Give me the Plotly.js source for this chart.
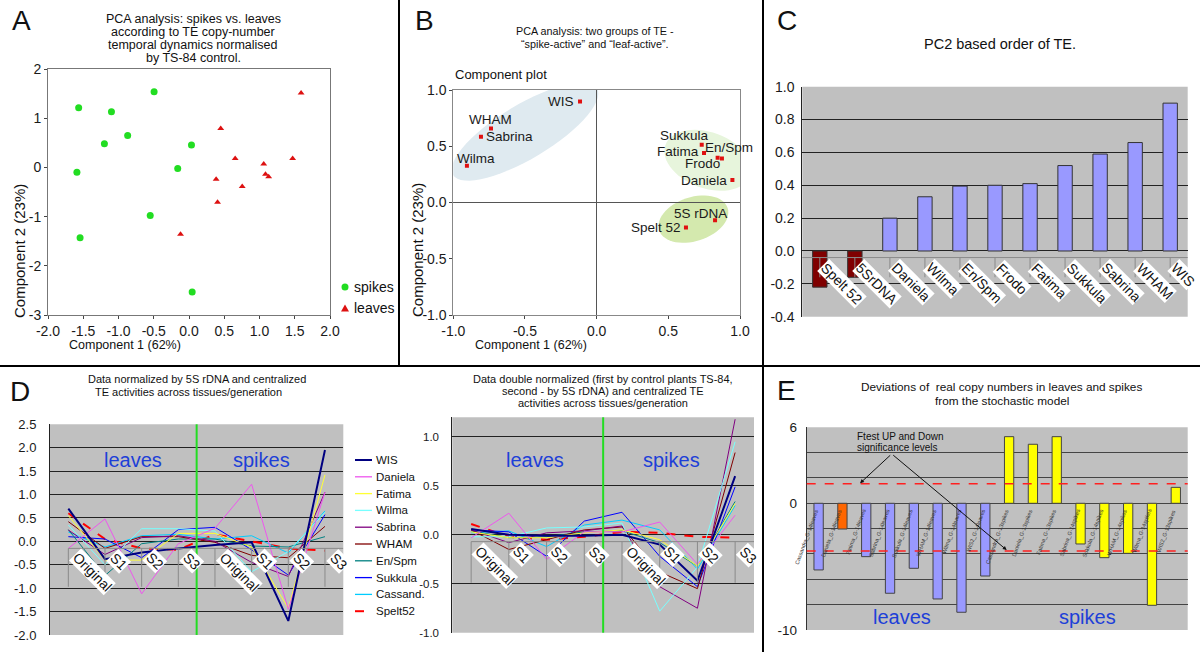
<!DOCTYPE html>
<html>
<head>
<meta charset="utf-8">
<script src="https://cdn.plot.ly/plotly-3.0.1.min.js"></script>
<style>
html,body{margin:0;padding:0;background:#ffffff;}
#chart{width:1200px;height:652px;}
</style>
</head>
<body>
<div id="chart"></div>
<script>
// ===================== DATA =====================
// Panel A – PCA scores
const aSpikesX = [-1.565, -1.10, -0.495, -1.20, -0.87, 0.035, -1.59, -0.16, -0.55, -1.545, 0.045];
const aSpikesY = [1.21, 1.13, 1.54, 0.48, 0.65, 0.455, -0.10, -0.02, -0.98, -1.43, -2.53];
const aLeavesX = [1.59, 0.45, 0.655, 1.06, 1.47, 1.085, 1.13, 0.385, 0.755, 0.405, -0.12];
const aLeavesY = [1.51, 0.79, 0.18, 0.07, 0.18, -0.14, -0.19, -0.24, -0.39, -0.71, -1.36];
const aTicksX = [-2, -1.5, -1, -0.5, 0, 0.5, 1, 1.5, 2];
const aTicksY = [-3, -2, -1, 0, 1, 2];
const aLegend = ['spikes', 'leaves'];

// Panel B – component plot
const bNames = ['WIS', 'WHAM', 'Sabrina', 'Wilma', 'Sukkula', 'Fatima', 'En/Spm', 'Frodo', 'Daniela', '5S rDNA', 'Spelt 52'];
const bX = [-0.116, -0.737, -0.807, -0.905, 0.733, 0.749, 0.874, 0.844, 0.947, 0.826, 0.623];
const bY = [0.898, 0.658, 0.584, 0.326, 0.513, 0.439, 0.391, 0.397, 0.199, -0.157, -0.222];
const bTicks = [-1, -0.5, 0, 0.5, 1];

// Panel C – PC2 order
const cCategories = ['Spelt 52', '5SrDNA', 'Daniela', 'Wilma', 'En/Spm', 'Frodo', 'Fatima', 'Sukkula', 'Sabrina', 'WHAM', 'WIS'];
const cValues = [-0.22, -0.16, 0.20, 0.33, 0.395, 0.40, 0.41, 0.52, 0.59, 0.66, 0.90];
const cTicks = [-0.4, -0.2, 0, 0.2, 0.4, 0.6, 0.8, 1.0];

// Panel D – TE activities
const dCategories = ['Original', 'S1', 'S2', 'S3', 'Original', 'S1', 'S2', 'S3'];
const dSeries = ['WIS', 'Daniela', 'Fatima', 'Wilma', 'Sabrina', 'WHAM', 'En/Spm', 'Sukkula', 'Cassand.', 'Spelt52'];
// left chart: normalized by 5S rDNA
const dLeftWIS      = [0.70, -0.38, -0.24, -0.15, -0.08, -0.02, -1.70, 1.95];
const dLeftDaniela  = [-0.15, 0.48, -1.12, -0.05, 0.28, 1.22, -1.45, 1.05];
const dLeftFatima   = [0.55, -0.40, -0.40, 0.17, 0.17, -0.12, -1.43, 1.42];
const dLeftWilma    = [0.35, -0.50, 0.27, 0.27, 0.22, -0.65, -0.22, 0.62];
const dLeftSabrina  = [0.24, -0.28, 0.08, 0.12, 0.00, -0.45, -0.75, 1.05];
const dLeftWHAM     = [0.42, -0.15, 0.10, 0.10, -0.02, -0.30, -0.35, 0.32];
const dLeftEnSpm    = [0.25, -0.73, -0.05, 0.05, 0.05, -0.10, -0.12, 0.10];
const dLeftSukkula  = [0.10, 0.05, -0.35, 0.25, 0.30, -0.18, -0.72, 0.57];
const dLeftCassand  = [0.20, -0.12, 0.12, 0.15, 0.05, 0.12, -0.25, 0.65];
const dLeftSpelt52  = [0.60, 0.05, -0.15, -0.18, 0.15, 0.00, -0.15, -0.20];
const dLeftTicks = [-2, -1.5, -1, -0.5, 0, 0.5, 1, 1.5, 2, 2.5];
// right chart: double normalized
const dRightWIS     = [0.06, 0.00, -0.01, -0.01, 0.00, -0.10, -0.47, 0.60];
const dRightDaniela = [-0.03, 0.22, -0.25, 0.03, 0.03, 0.13, -0.30, 0.20];
const dRightFatima  = [0.03, -0.03, -0.03, 0.02, 0.05, -0.05, -0.32, 0.32];
const dRightWilma   = [-0.02, -0.02, 0.07, 0.08, 0.12, -0.78, -0.33, 0.95];
const dRightSabrina = [0.05, -0.08, 0.02, 0.04, 0.09, -0.53, -0.75, 1.18];
const dRightWHAM    = [0.05, -0.15, -0.05, 0.05, 0.08, -0.38, -0.55, 0.84];
const dRightEnSpm   = [0.04, -0.03, -0.02, 0.03, 0.04, -0.08, -0.32, 0.34];
const dRightSukkula = [0.05, 0.03, -0.22, 0.14, 0.23, -0.22, -0.53, 0.49];
const dRightCassand = [0.02, 0.04, -0.12, 0.10, 0.15, 0.05, -0.35, 0.30];
const dRightSpelt52 = [0.11, -0.02, -0.05, -0.02, 0.03, 0.02, -0.02, -0.03];
const dRightTicks = [-1, -0.5, 0, 0.5, 1];

// Panel E – deviations from stochastic model
const eLeavesLabels = ['Cassandra_G-14leaves', 'Daniela_G-14leaves', 'Fatima_G-14leaves', 'Sabrina_G-14leaves', 'Sukkula_G-14leaves', 'WHAM_G-14leaves', 'Wilma_G-14leaves', 'WIS2_G-14leaves'];
const eLeavesValues = [-5.26, -2.03, -4.21, -7.10, -5.13, -7.55, -8.60, -5.74];
const eSpikesLabels = ['Cassandra_G-13spikes', 'Daniela_G-13spikes', 'Fatima_G-13spikes', 'Sabrina_G-14spikes', 'Sukkula_G-14spikes', 'WHAM_G-14spikes', 'Wilma_G-14spikes', 'WIS2_G-13spikes'];
const eSpikesValues = [5.26, 4.66, 5.26, -3.21, -4.29, -3.95, -8.05, 1.26];
const eFtestUp = 1.55;
const eFtestDown = -3.77;
const eTicks = [-10, -8, -6, -4, -2, 0, 2, 4, 6];
const eTickLabels = ['-10', '', '', '', '', '0', '', '', '6'];

// ===================== HELPERS =====================
const FONT = '"Liberation Sans", Arial, Helvetica, sans-serif';
const W = 1200, H = 652;
const X = p => p / W;
const Y = p => 1 - p / H;
const fmt1 = v => (Math.round(v * 10) / 10).toFixed(1);
const annotations = [];
const shapes = [];
const traces = [];

function txt(text, px, py, size, extra) {
  annotations.push(Object.assign({
    text: text, xref: 'paper', yref: 'paper', x: X(px), y: Y(py),
    xanchor: 'center', yanchor: 'middle', showarrow: false,
    font: {family: FONT, size: size, color: '#111'}
  }, extra || {}));
}
function lines(arr, cx, y0, dy, size) {
  arr.forEach((t, i) => txt(t, Array.isArray(cx) ? cx[i] : cx, y0 + i * dy, size));
}
function ellipsePath(cx, cy, a, b, ang, sx, sy) {
  const r = ang * Math.PI / 180; let p = '';
  for (let k = 0; k <= 60; k++) {
    const t = 2 * Math.PI * k / 60;
    const ex = a * Math.cos(t), ey = b * Math.sin(t);
    const dx = ex * Math.cos(r) - ey * Math.sin(r);
    const dy = ex * Math.sin(r) + ey * Math.cos(r);
    p += (k === 0 ? 'M' : 'L') + (cx + dx / sx).toFixed(4) + ',' + (cy + dy / sy).toFixed(4);
  }
  return p + 'Z';
}
function line(xref, yref, x0, y0, x1, y1, color, width, dash, layer) {
  shapes.push({type: 'line', xref: xref, yref: yref, x0: x0, y0: y0, x1: x1, y1: y1,
    line: {color: color, width: width, dash: dash || 'solid'}, layer: layer || 'above'});
}

const tickFont = s => ({family: FONT, size: s, color: '#1a1a1a'});
const hiddenX = (dom, anchor, range) => ({domain: dom, anchor: anchor, range: range, showgrid: false,
  zeroline: false, showline: false, showticklabels: false, ticks: '', fixedrange: true});

// ===================== PANEL A =====================
traces.push({type: 'scatter', mode: 'markers', x: aSpikesX, y: aSpikesY, xaxis: 'x', yaxis: 'y',
  name: aLegend[0], marker: {color: '#22dd22', size: 7, symbol: 'circle'}});
traces.push({type: 'scatter', mode: 'markers', x: aLeavesX, y: aLeavesY, xaxis: 'x', yaxis: 'y',
  name: aLegend[1], marker: {color: '#dd1111', size: 6, symbol: 'triangle-up'}});
txt('A', 21, 20, 28);
lines(['PCA analysis: spikes vs. leaves', 'according to TE copy-number', 'temporal dynamics normalised', 'by TS-84 control.'], 193, 18.5, 13.3, 12.5);
txt('Component 2 (23%)', 19, 251, 15, {textangle: -90});
txt('Component 1 (62%)', 125, 345, 12.5);
// legend
shapes.push({type: 'circle', xref: 'paper', yref: 'paper', x0: X(341.5), x1: X(348.5), y0: Y(290.5), y1: Y(283.5),
  fillcolor: '#22dd22', line: {width: 0}});
shapes.push({type: 'path', xref: 'paper', yref: 'paper',
  path: 'M' + X(345) + ',' + Y(304.5) + 'L' + X(341) + ',' + Y(311.5) + 'L' + X(349) + ',' + Y(311.5) + 'Z',
  fillcolor: '#dd1111', line: {width: 0}});
txt(aLegend[0], 352, 287, 14, {xanchor: 'left'});
txt(aLegend[1], 352, 308, 14, {xanchor: 'left'});

// ===================== PANEL B =====================
const bSx = (740 - 453.3) / 2, bSy = (315 - 90) / 2;
shapes.push({type: 'path', xref: 'x2', yref: 'y2', layer: 'below', fillcolor: '#dfeaf0', line: {width: 0},
  path: ellipsePath(-0.50, 0.63, 84, 27, 31, bSx, bSy)});
shapes.push({type: 'path', xref: 'x2', yref: 'y2', layer: 'below', fillcolor: '#e7f5dc', line: {width: 0},
  path: ellipsePath(0.775, 0.375, 45, 28, -20, bSx, bSy)});
shapes.push({type: 'path', xref: 'x2', yref: 'y2', layer: 'below', fillcolor: '#d4e9ae', line: {width: 0},
  path: ellipsePath(0.675, -0.148, 36, 22, 18, bSx, bSy)});
traces.push({type: 'scatter', mode: 'markers', x: bX, y: bY, xaxis: 'x2', yaxis: 'y2', text: bNames,
  marker: {color: '#e01010', size: 4, symbol: 'square'}});
const bLabelPos = [
  ['right', -4, 0], ['center', -1, 9], ['left', 3, 0], ['center', 9, 7], ['center', -17, 9],
  ['right', -3, 2], ['center', 7, 11], ['center', -15, -6], ['right', -3, 0], ['center', -15, 7], ['right', -3, 0]];
bNames.forEach((n, i) => annotations.push({text: n, xref: 'x2', yref: 'y2', x: bX[i], y: bY[i],
  xanchor: bLabelPos[i][0], yanchor: 'middle', xshift: bLabelPos[i][1], yshift: bLabelPos[i][2],
  showarrow: false, font: {family: FONT, size: 13.5, color: '#1a1a1a'}}));
txt('B', 424, 20, 28);
lines(['PCA analysis: two groups of TE -', '\u201Cspike-active\u201D and \u201Cleaf-active\u201D.'], 595, 31, 13, 10.8);
txt('Component plot', 453, 74, 13, {xanchor: 'left'});
txt('Component 2 (23%)', 417, 250, 15, {textangle: -90});
txt('Component 1 (62%)', 531, 345, 12.5);

// ===================== PANEL C =====================
shapes.push({type: 'rect', xref: 'x3 domain', yref: 'y3 domain', x0: 0, x1: 1, y0: 0, y1: 1,
  fillcolor: '#c0c0c0', line: {width: 0}, layer: 'below'});
traces.push({type: 'bar', x: cCategories, y: cValues, xaxis: 'x3', yaxis: 'y3', width: 0.41,
  marker: {color: cValues.map(v => v < 0 ? '#800000' : '#9999ff'), line: {color: '#333', width: 1}}});
line('x3 domain', 'y3', 0, -0.04, 1, -0.04, '#8a8a8a', 1, 'solid', 'above');
cCategories.forEach((c, i) => {
  line('x3', 'y3', i, -0.04, i, -0.16, '#8a8a8a', 1, 'solid', 'above');
  annotations.push({text: c, xref: 'x3', yref: 'y3', x: i, y: -0.045, xanchor: 'left', yanchor: 'top',
    xshift: -3, textangle: 45, bgcolor: '#ffffff', borderpad: 0, showarrow: false,
    font: {family: FONT, size: 14, color: '#111'}});
});
txt('C', 787, 20, 28);
txt('PC2 based order of TE.', 1000, 44, 14.5);

// ===================== PANEL D =====================
const dColors = ['#000080', '#ee55ee', '#ffff33', '#77ffff', '#800080', '#800000', '#008080', '#0000ff', '#00ccff', '#ff0000'];
const dWidths = [2, 1, 1, 1, 1, 1, 1, 1, 1, 2];
const dLeft = [dLeftWIS, dLeftDaniela, dLeftFatima, dLeftWilma, dLeftSabrina, dLeftWHAM, dLeftEnSpm, dLeftSukkula, dLeftCassand, dLeftSpelt52];
const dRight = [dRightWIS, dRightDaniela, dRightFatima, dRightWilma, dRightSabrina, dRightWHAM, dRightEnSpm, dRightSukkula, dRightCassand, dRightSpelt52];
const dIdx = dCategories.map((c, i) => i);
['x4', 'x5'].forEach(xa => shapes.push({type: 'rect', xref: xa + ' domain', yref: 'y' + xa.slice(1) + ' domain',
  x0: 0, x1: 1, y0: 0, y1: 1, fillcolor: '#c0c0c0', line: {width: 0}, layer: 'below'}));
for (let s = dSeries.length - 1; s >= 0; s--) {
  const dash = dSeries[s] === 'Spelt52' ? 'dash' : 'solid';
  traces.push({type: 'scatter', mode: 'lines', x: dIdx, y: dLeft[s], xaxis: 'x4', yaxis: 'y4', name: dSeries[s],
    line: {color: dColors[s], width: dWidths[s], dash: dash}});
  traces.push({type: 'scatter', mode: 'lines', x: dIdx, y: dRight[s], xaxis: 'x5', yaxis: 'y5', name: dSeries[s],
    line: {color: dColors[s], width: dWidths[s], dash: dash}});
}
// category axis artefacts + labels
[['x4', 'y4', -0.15, -0.97], ['x5', 'y5', -0.07, -0.49]].forEach(([xa, ya, yl, yb]) => {
  line(xa, ya, 0, yl, dCategories.length - 0.5, yl, '#8a8a8a', 1, 'solid', 'above');
  dCategories.forEach((c, i) => {
    line(xa, ya, i, yl, i, yb, '#8a8a8a', 1, 'solid', 'above');
  });
  line(xa, ya + ' domain', (dCategories.length - 1) / 2, 0, (dCategories.length - 1) / 2, 1, '#22dd22', 2, 'solid', 'above');
  dCategories.forEach((c, i) => {
    annotations.push({text: c, xref: xa, yref: ya, x: i, y: yl, xanchor: 'left', yanchor: 'top',
      xshift: 0, textangle: 45, bgcolor: '#ffffff', borderpad: 0, showarrow: false,
      font: {family: FONT, size: 14, color: '#111'}});
  });
});
const blue = '#1d3fd8';
txt('leaves', 132.5, 460, 20, {font: {family: FONT, size: 20, color: blue}});
txt('spikes', 261.7, 460, 20, {font: {family: FONT, size: 20, color: blue}});
txt('leaves', 535, 460, 20, {font: {family: FONT, size: 20, color: blue}});
txt('spikes', 671, 460, 20, {font: {family: FONT, size: 20, color: blue}});
// legend (manual)
dSeries.forEach((n, i) => {
  const py = 460 + i * 16.8;
  shapes.push({type: 'line', xref: 'paper', yref: 'paper', x0: X(355), x1: X(372), y0: Y(py), y1: Y(py),
    line: {color: dColors[i], width: n === 'Spelt52' ? 2 : (i === 0 ? 2 : 1.3), dash: n === 'Spelt52' ? 'dash' : 'solid'}});
  txt(n, 374, py, 11.5, {xanchor: 'left'});
});
txt('D', 20, 391, 28);
lines(['Data normalized by 5S rDNA and centralized', 'TE activities across tissues/generation'], [196.7, 188.3], 379.3, 12.4, 11);
lines(['Data double normalized (first by control plants TS-84,', 'second - by 5S rDNA) and centralized TE', 'activities across tissues/generation'], 603, 379.3, 11.7, 11);

// ===================== PANEL E =====================
const eLabels = eLeavesLabels.concat(eSpikesLabels);
const eValues = eLeavesValues.concat(eSpikesValues);
const eColors = eLabels.map((l, i) => i < eLeavesLabels.length ? (l.indexOf('Daniela') === 0 ? '#ff6600' : '#9999ff') : '#ffff00');
shapes.push({type: 'rect', xref: 'x6 domain', yref: 'y6 domain', x0: 0, x1: 1, y0: 0, y1: 1,
  fillcolor: '#c0c0c0', line: {width: 0}, layer: 'below'});
traces.push({type: 'bar', x: eLabels, y: eValues, xaxis: 'x6', yaxis: 'y6', width: 0.39,
  marker: {color: eColors, line: {color: '#444', width: 1}}});
line('x6 domain', 'y6', 0, eFtestUp, 1, eFtestUp, '#ff2020', 1.5, 'dash', 'above');
line('x6 domain', 'y6', 0, eFtestDown, 1, eFtestDown, '#ff2020', 1.5, 'dash', 'above');
eLabels.forEach((l, i) => annotations.push({text: l, xref: 'x6', yref: 'y6', x: i, y: -0.2,
  xanchor: 'right', yanchor: 'top', xshift: 3, textangle: -70, showarrow: false,
  font: {family: FONT, size: 5.5, color: '#333'}}));
txt('Ftest UP and Down', 855, 436, 10, {xanchor: 'left'});
txt('significance levels', 855, 447, 10, {xanchor: 'left'});
[[1.74, 1.58], [7.9, -3.69]].forEach(([tx, ty]) => annotations.push({text: '', xref: 'x6', yref: 'y6', x: tx, y: ty,
  axref: 'x6', ayref: 'y6', ax: 3.07, ay: 3.9, showarrow: true, arrowhead: 2, arrowsize: 0.8, arrowwidth: 1, arrowcolor: '#111'}));
txt('leaves', 902, 617, 20, {font: {family: FONT, size: 20, color: blue}});
txt('spikes', 1087.7, 617, 20, {font: {family: FONT, size: 20, color: blue}});
txt('E', 786, 390, 28);
lines(['Deviations of  real copy numbers in leaves and spikes', 'from the stochastic model'], 1001.5, 386.7, 14, 11.8);

// ===================== BORDERS =====================
line('paper', 'paper', 0, Y(366), 1, Y(366), '#000', 2);
line('paper', 'paper', X(399), 1, X(399), Y(366), '#000', 2);
line('paper', 'paper', X(763), 1, X(763), 0, '#000', 2);

// ===================== LAYOUT =====================
const layout = {
  width: W, height: H, margin: {l: 0, r: 0, t: 0, b: 0, pad: 0},
  paper_bgcolor: '#ffffff', plot_bgcolor: 'rgba(0,0,0,0)', showlegend: false, hovermode: false,
  font: {family: FONT, color: '#1a1a1a'},
  // A
  xaxis: {domain: [X(48), X(330)], anchor: 'y', range: [-2, 2], tickvals: aTicksX, ticktext: aTicksX.map(fmt1),
    showline: true, mirror: true, linecolor: '#777', ticks: 'outside', ticklen: 3, tickcolor: '#444',
    showgrid: false, zeroline: false, tickfont: tickFont(14)},
  yaxis: {domain: [Y(315), Y(69)], anchor: 'x', range: [-3, 2], tickvals: aTicksY, ticktext: aTicksY.map(String),
    showline: true, mirror: true, linecolor: '#777', ticks: 'outside', ticklen: 3, tickcolor: '#444',
    showgrid: false, zeroline: false, tickfont: tickFont(14)},
  // B
  xaxis2: {domain: [X(453.3), X(740)], anchor: 'y2', range: [-1, 1], tickvals: bTicks, ticktext: bTicks.map(fmt1),
    showline: true, mirror: true, linecolor: '#888', ticks: 'outside', ticklen: 3, tickcolor: '#444',
    showgrid: false, zeroline: true, zerolinecolor: '#555', zerolinewidth: 1, tickfont: tickFont(14)},
  yaxis2: {domain: [Y(315), Y(90)], anchor: 'x2', range: [-1, 1], tickvals: bTicks, ticktext: bTicks.map(fmt1),
    showline: true, mirror: true, linecolor: '#888', ticks: 'outside', ticklen: 3, tickcolor: '#444',
    showgrid: false, zeroline: true, zerolinecolor: '#555', zerolinewidth: 1, tickfont: tickFont(14)},
  // C
  xaxis3: Object.assign(hiddenX([X(802.3), X(1187.7)], 'y3', [-0.5, cCategories.length - 0.5]), {type: 'category'}),
  yaxis3: {domain: [Y(316.7), Y(86.7)], anchor: 'x3', range: [-0.4, 1.0], tickvals: cTicks, ticktext: cTicks.map(fmt1),
    showgrid: true, gridcolor: '#222', gridwidth: 1, zeroline: false, showline: true, linecolor: '#222',
    ticks: '', ticklabelstandoff: 4, tickfont: tickFont(14)},
  // D left
  xaxis4: hiddenX([X(50), X(343.3)], 'y4', [-0.5, dCategories.length - 0.5]),
  yaxis4: {domain: [Y(635), Y(424.3)], anchor: 'x4', range: [-2, 2.5], tickvals: dLeftTicks, ticktext: dLeftTicks.map(fmt1),
    showgrid: true, gridcolor: '#222', gridwidth: 1, zeroline: false, showline: true, linecolor: '#222',
    ticks: '', ticklabelstandoff: 10, tickfont: tickFont(13)},
  // D right
  xaxis5: hiddenX([X(452.3), X(754)], 'y5', [-0.5, dCategories.length - 0.5]),
  yaxis5: {domain: [Y(632.7), Y(417.3)], anchor: 'x5', range: [-1, 1.2], tickvals: dRightTicks, ticktext: dRightTicks.map(fmt1),
    showgrid: true, gridcolor: '#222', gridwidth: 1, zeroline: false, showline: true, linecolor: '#222',
    ticks: '', ticklabelstandoff: 10, tickfont: tickFont(11.5)},
  // E
  xaxis6: Object.assign(hiddenX([X(806.7), X(1187.7)], 'y6', [-0.5, eLabels.length - 0.5]), {type: 'category'}),
  yaxis6: {domain: [Y(630), Y(427.3)], anchor: 'x6', range: [-10, 6], tickvals: eTicks, ticktext: eTickLabels,
    showgrid: true, gridcolor: '#444', gridwidth: 1, zeroline: false, showline: true, linecolor: '#333',
    ticks: '', ticklabelstandoff: 6, tickfont: tickFont(13.5)},
  shapes: shapes,
  annotations: annotations
};

Plotly.newPlot('chart', traces, layout, {staticPlot: true, displayModeBar: false});
</script>
</body>
</html>
